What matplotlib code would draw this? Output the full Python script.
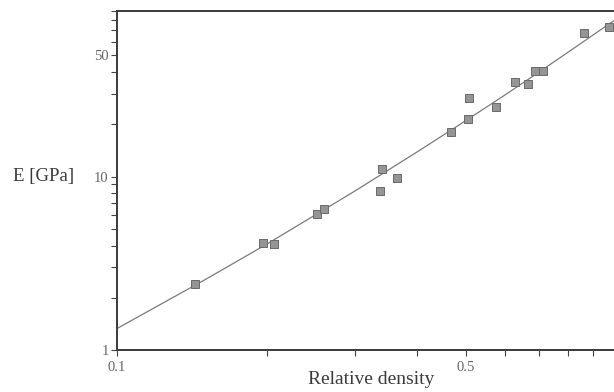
import matplotlib.pyplot as plt
from matplotlib.ticker import FixedLocator, NullFormatter

# Dados (densidade relativa x módulo E)
rho = [0.143, 0.196, 0.206, 0.252, 0.260, 0.337, 0.340, 0.364, 0.467,
       0.506, 0.508, 0.574, 0.628, 0.666, 0.688, 0.715, 0.862, 0.966]
E = [2.40, 4.12, 4.08, 6.07, 6.46, 8.27, 11.0, 9.83, 18.1,
     21.4, 28.4, 25.2, 35.1, 34.0, 40.5, 40.6, 67.6, 72.3]

# Curva ajustada (valores lidos ao longo da linha)
fit_rho = [0.1, 0.15, 0.2, 0.3, 0.4, 0.5, 0.6, 0.7, 0.8, 0.9, 1.0]
fit_E = [1.33, 2.54, 4.09, 8.26, 13.9, 21.0, 29.6, 39.9, 51.9, 65.5, 80.7]

x_ticks = [0.1, 0.5]
x_labels = ['0.1', '0.5']
y_ticks = [1, 10, 50]
y_labels = ['1', '10', '50']

plt.rcParams['font.family'] = ['Liberation Serif', 'DejaVu Serif']

fig = plt.figure(figsize=(6.14, 3.92), dpi=100)
ax = fig.add_axes([117 / 614, 42 / 392, 499 / 614, 339 / 392])

ax.plot(fit_rho, fit_E, color='#7a7a7a', lw=0.9)
ax.plot(rho, E, 's', ms=5.8, mfc='#959595', mec='#6a6a6a', mew=0.7,
        clip_on=False)

ax.set_xscale('log')
ax.set_yscale('log')
ax.set_xlim(0.1, 1.0)
ax.set_ylim(1, 90)

ax.xaxis.set_major_locator(FixedLocator(x_ticks))
ax.set_xticklabels(x_labels)
ax.xaxis.set_minor_locator(FixedLocator([0.2, 0.3, 0.4, 0.6, 0.7, 0.8, 0.9]))
ax.xaxis.set_minor_formatter(NullFormatter())
ax.yaxis.set_major_locator(FixedLocator(y_ticks))
ax.set_yticklabels(y_labels)
ax.yaxis.set_minor_locator(FixedLocator([2, 3, 4, 5, 6, 7, 8, 9, 20, 30, 40, 60, 70, 80, 90]))
ax.yaxis.set_minor_formatter(NullFormatter())

ax.tick_params(which='both', direction='out', length=4, width=0.8,
               color='#444444', labelsize=10.5, labelcolor='#666666', pad=2)
ax.tick_params(axis='x', which='major', pad=4)
for s in ['left', 'bottom', 'top']:
    ax.spines[s].set_linewidth(1.4)
    ax.spines[s].set_color('#3a3a3a')
ax.spines['right'].set_visible(False)

# Rótulos dos eixos
fig.text(371 / 614, 1 - 380 / 392, 'Relative density', fontsize=14,
         color='#3a3a3a', ha='center', va='center')
fig.text(13 / 614, 1 - 177 / 392, 'E [GPa]', fontsize=13.5, color='#3a3a3a',
         ha='left', va='center')

fig.savefig('out.png', dpi=100)
